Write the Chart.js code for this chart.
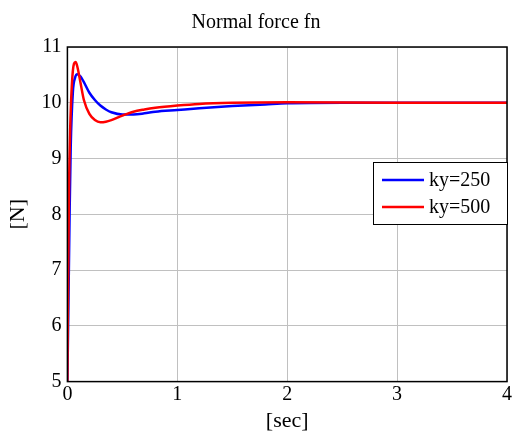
<!DOCTYPE html>
<html>
<head>
<meta charset="utf-8">
<script src="https://cdn.jsdelivr.net/npm/chart.js@4"></script>
<style>
  html, body { margin: 0; padding: 0; background: #fff; overflow: hidden; }
  #wrap { width: 513px; height: 434px; position: relative; }
</style>
</head>
<body>
<div id="wrap"><canvas id="chart"></canvas></div>
<script>
// time [sec] and normal force [N]
var t_250 = [0, 0.01, 0.02, 0.03, 0.05, 0.07, 0.09, 0.12, 0.15, 0.2, 0.25, 0.3, 0.35, 0.4, 0.5, 0.6, 0.7, 0.8, 1.0, 1.2, 1.5, 1.8, 2.0, 2.5, 3.0, 4.0];
var fn_250 = [5, 6.5, 8.0, 9.2, 10.2, 10.45, 10.51, 10.47, 10.37, 10.18, 10.05, 9.95, 9.88, 9.83, 9.79, 9.79, 9.81, 9.84, 9.87, 9.9, 9.94, 9.97, 9.99, 10.0, 10.0, 10.0];

var t_500 = [0, 0.005, 0.015, 0.025, 0.04, 0.06, 0.075, 0.09, 0.12, 0.15, 0.2, 0.25, 0.3, 0.35, 0.4, 0.5, 0.6, 0.7, 0.8, 1.0, 1.2, 1.5, 2.0, 3.0, 4.0];
var fn_500 = [5, 6.5, 8.5, 9.5, 10.3, 10.7, 10.73, 10.65, 10.35, 10.05, 9.8, 9.69, 9.65, 9.66, 9.69, 9.77, 9.84, 9.88, 9.91, 9.95, 9.98, 10.0, 10.01, 10.0, 10.0];

var labels = ["ky=250", "ky=500"];
var colors = ["#0000ff", "#ff0000"];

function toPoints(xs, ys) {
  var pts = [];
  for (var i = 0; i < xs.length; i++) pts.push({x: xs[i], y: ys[i]});
  return pts;
}

var serif = "'Liberation Serif', 'DejaVu Serif', serif";

// box around plot + legend drawn like matlab
var frame = {
  id: 'frame',
  afterDraw: function(chart) {
    var ctx = chart.ctx;
    var a = chart.chartArea;
    ctx.save();
    ctx.strokeStyle = '#000';
    ctx.lineWidth = 1.5;
    ctx.strokeRect(a.left, a.top, a.right - a.left, a.bottom - a.top);

    // legend
    var lx = 373, ly = 162, lw = 134, lh = 62;
    ctx.fillStyle = '#fff';
    ctx.fillRect(lx, ly, lw, lh);
    ctx.lineWidth = 1;
    ctx.strokeRect(lx + 0.5, ly + 0.5, lw, lh);
    ctx.font = "20px " + serif;
    ctx.textBaseline = 'middle';
    var ds = chart.data.datasets;
    for (var i = 0; i < ds.length; i++) {
      var y = ly + 18 + i * 27;
      ctx.strokeStyle = ds[i].borderColor;
      ctx.lineWidth = 2.5;
      ctx.beginPath();
      ctx.moveTo(lx + 9, y);
      ctx.lineTo(lx + 51, y);
      ctx.stroke();
      ctx.fillStyle = '#000';
      ctx.fillText(ds[i].label, lx + 56, y + 1);
    }
    ctx.restore();
  }
};

new Chart(document.getElementById('chart'), {
  type: 'scatter',
  data: {
    datasets: [{
      label: labels[0],
      data: toPoints(t_250, fn_250),
      borderColor: colors[0],
      backgroundColor: colors[0],
      showLine: true,
      borderWidth: 2.5,
      pointRadius: 0,
      order: 1,
      cubicInterpolationMode: 'monotone'
    }, {
      label: labels[1],
      data: toPoints(t_500, fn_500),
      borderColor: colors[1],
      backgroundColor: colors[1],
      showLine: true,
      borderWidth: 2.5,
      pointRadius: 0,
      order: 0,
      cubicInterpolationMode: 'monotone'
    }]
  },
  options: {
    responsive: true,
    maintainAspectRatio: false,
    animation: false,
    layout: { padding: { top: 0, right: 2, bottom: 0, left: 1 } },
    plugins: {
      legend: { display: false },
      tooltip: { enabled: false },
      title: {
        display: true,
        text: 'Normal force fn',
        color: '#000',
        font: { family: serif, size: 20, weight: 'normal' },
        padding: { top: 11, bottom: 12 }
      }
    },
    scales: {
      x: {
        type: 'linear',
        min: 0, max: 4,
        ticks: { stepSize: 1, color: '#000', font: { family: serif, size: 20 }, padding: 1 },
        grid: { color: '#c0c0c0', lineWidth: 1, drawTicks: false },
        border: { display: false },
        title: { display: true, text: '[sec]', color: '#000', font: { family: serif, size: 22 }, padding: 0 }
      },
      y: {
        min: 5, max: 11,
        ticks: { stepSize: 1, color: '#000', font: { family: serif, size: 20 }, padding: 6 },
        grid: { color: '#c0c0c0', lineWidth: 1, drawTicks: false },
        border: { display: false },
        title: { display: true, text: '[N]', color: '#000', font: { family: serif, size: 22 }, padding: 4 }
      }
    }
  },
  plugins: [frame]
});
</script>
</body>
</html>
